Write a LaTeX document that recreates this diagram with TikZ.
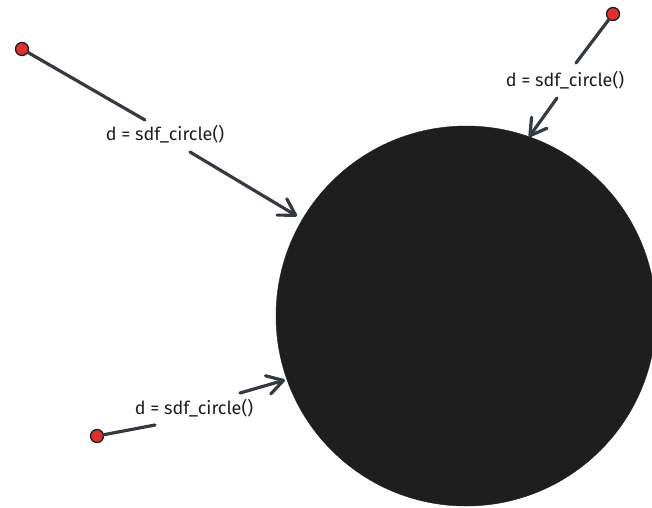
\documentclass[tikz,border=0pt]{standalone}
\usepackage{fontspec}
\setmainfont{Fira Sans}
\usetikzlibrary{arrows.meta}
\definecolor{ink}{HTML}{343A40}
\definecolor{blob}{HTML}{1E1E1E}
\definecolor{pin}{HTML}{E03131}
\newcommand{\labfont}{\fontsize{18pt}{20pt}\selectfont}
\tikzset{
  conn/.style={draw=ink, line width=3.2pt, line cap=round},
  arr/.style={conn, -{Straight Barb[round,length=16pt,width=19pt]}},
  dot/.style={circle, fill=pin, draw=blob, line width=1.3pt, minimum size=13pt, inner sep=0pt},
  lab/.style={font=\labfont, text=blob, inner sep=1pt},
  disk/.style={circle, fill=blob, draw=blob, minimum size=380pt, inner sep=0pt}
}
\begin{document}
\begin{tikzpicture}[x=1pt,y=-1pt]
\useasboundingbox (0,0) rectangle (652,507);
\node[disk] (c) at (466,316) {};
% dots
\node[dot] (d1) at (22,49) {};
\node[dot] (d2) at (613,14) {};
\node[dot] (d3) at (97,436) {};
% labels
\node[lab] (l1) at (165,134) {d = sdf\_circle()};
\node[lab] (l2) at (565,80) {d = sdf\_circle()};
\node[lab] (l3) at (194,408) {d = sdf\_circle()};
% gap ends and tips
\coordinate (g1a) at (145,120);
\coordinate (g1b) at (190,152);
\coordinate (t1) at (297,216);
\coordinate (g2a) at (576,63);
\coordinate (g2b) at (557,98);
\coordinate (t2) at (529,137);
\coordinate (g3a) at (155,425);
\coordinate (g3b) at (240,393);
\coordinate (t3) at (285,380);
% connectors
\draw[conn] (d1) -- (g1a);
\draw[arr] (g1b) -- (t1);
\draw[conn] (d2) -- (g2a);
\draw[arr] (g2b) -- (t2);
\draw[conn] (d3) -- (g3a);
\draw[arr] (g3b) -- (t3);
\end{tikzpicture}
\end{document}
